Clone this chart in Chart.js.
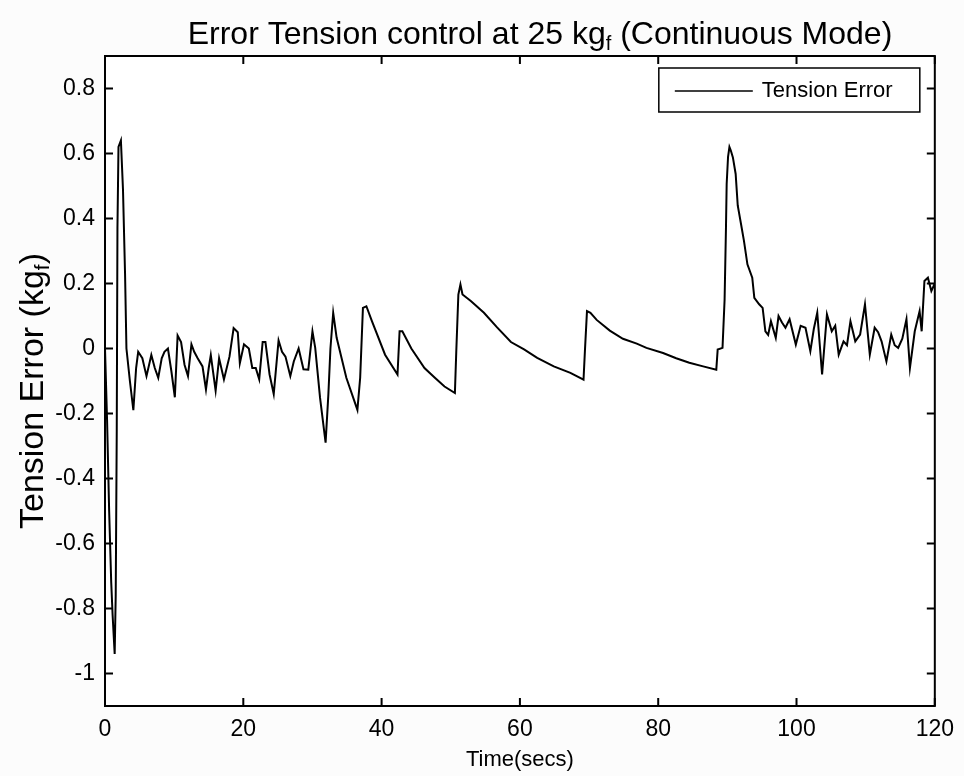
<!DOCTYPE html>
<html>
<head>
<meta charset="utf-8">
<script src="https://cdn.jsdelivr.net/npm/chart.js@4"></script>
<style>
  body { margin: 0; background: #fcfcfc; }
  canvas { display: block; }
</style>
</head>
<body>
<canvas id="tensionChart" width="964" height="776"></canvas>
<script>
// time (s) and tension error (kgf)
const timeSecs = [
  0, 0.3, 0.6, 0.9, 1.1, 1.4, 1.55, 1.7, 1.8, 1.95, 2.3, 2.6, 2.9, 3.1, 3.6, 4.1, 4.5,
  4.8, 5.4, 6.0, 6.7, 7.2, 7.7, 8.2, 8.6, 9.1, 9.6, 10.1, 10.5, 11.0, 11.5, 12.0, 12.5,
  12.9, 13.4, 14.1, 14.6, 15.0, 15.3, 16.0, 16.5, 17.2, 18.0, 18.6, 19.2, 19.5, 20.1,
  20.8, 21.3, 21.8, 22.3, 22.8, 23.2, 23.8, 24.4, 25.1, 25.6, 26.1, 26.8, 27.3, 28.0,
  28.7, 29.4, 30.0, 30.4, 31.1, 31.9, 32.3, 32.6, 33.0, 33.5, 34.9, 36.5, 36.9, 37.3,
  37.8, 38.6, 40.5, 42.3, 42.6, 43.0, 44.3, 46.2, 47.7, 49.1, 50.6, 50.8, 51.1, 51.4,
  51.7, 52.9, 54.8, 56.7, 58.7, 60.6, 62.5, 64.9, 67.3, 69.2, 69.4, 69.7, 70.2, 71.1,
  73.0, 74.9, 76.9, 78.3, 80.7, 82.6, 84.5, 86.5, 88.4, 88.6, 89.3, 89.6, 89.8, 89.9,
  90.1, 90.3, 90.5, 90.8, 91.2, 91.5, 92.0, 92.4, 92.9, 93.6, 93.9, 94.6, 95.1, 95.5,
  95.9, 96.3, 97.0, 97.4, 97.9, 98.4, 99.0, 99.9, 100.6, 101.3, 102.0, 102.5, 103.0,
  103.7, 104.4, 105.1, 105.6, 106.1, 106.8, 107.3, 107.8, 108.5, 109.2, 109.9, 110.6,
  111.3, 111.8, 112.3, 113.0, 113.7, 114.2, 114.7, 115.3, 115.9, 116.4, 117.1, 117.8,
  118.1, 118.5, 119.0, 119.5, 120
];
const tensionError = [
  0, -0.22, -0.5, -0.72, -0.82, -0.94, -0.76, -0.25, 0.37, 0.62, 0.64, 0.49, 0.23, 0.0, -0.1, -0.19, -0.06,
  -0.01, -0.03, -0.085, -0.02, -0.06, -0.09, -0.03, -0.01, 0.0, -0.07, -0.15, 0.04, 0.02, -0.05, -0.085, 0.013,
  -0.01, -0.03, -0.055, -0.126, -0.06, -0.02, -0.13, -0.03, -0.095, -0.025, 0.063, 0.05, -0.045, 0.013,
  0.0, -0.06, -0.06, -0.095, 0.02, 0.02, -0.08, -0.14, 0.025, -0.01, -0.025, -0.085, -0.04, 0.0,
  -0.064, -0.065, 0.053, 0.002, -0.152, -0.29, -0.142, 0.0, 0.11, 0.033, -0.09, -0.189, -0.09, 0.125,
  0.13, 0.084, -0.019, -0.08, 0.053, 0.053, 0.0, -0.06, -0.09, -0.117, -0.137, -0.008, 0.166, 0.197,
  0.166, 0.146, 0.11, 0.065, 0.02, -0.003, -0.029, -0.055, -0.075, -0.096, -0.008, 0.115, 0.11, 0.088,
  0.055, 0.03, 0.015, 0.002, -0.014, -0.03, -0.044, -0.055, -0.065, -0.003, 0.002, 0.15, 0.372, 0.506,
  0.59, 0.62, 0.609, 0.588, 0.537, 0.44, 0.38, 0.331, 0.259, 0.218, 0.156, 0.136, 0.125, 0.053,
  0.042, 0.084, 0.033, 0.1, 0.08, 0.064, 0.09, 0.012, 0.07, 0.064, -0.008, 0.06, 0.11,
  -0.08, 0.105, 0.053, 0.07, -0.019, 0.022, 0.01, 0.084, 0.022, 0.043, 0.136, -0.019,
  0.064, 0.05, 0.022, -0.04, 0.043, 0.01, 0.002, 0.03, 0.09, -0.06, 0.053, 0.115,
  0.053, 0.208, 0.218, 0.177, 0.2
];
const yTickValues = [-1, -0.8, -0.6, -0.4, -0.2, 0, 0.2, 0.4, 0.6, 0.8];
const yTickLabels = ['-1', '-0.8', '-0.6', '-0.4', '-0.2', '0', '0.2', '0.4', '0.6', '0.8'];
const xTickValues = [0, 20, 40, 60, 80, 100, 120];

const FONT = '"Liberation Sans", Arial, sans-serif';

// text with a subscript "f", e.g. kg_f
function subText(ctx, parts, size) {
  // parts: [[text, isSub], ...] ; returns total width
  let w = 0;
  parts.forEach(p => {
    ctx.font = (p[1] ? Math.round(size * 0.62) : size) + 'px ' + FONT;
    w += ctx.measureText(p[0]).width;
  });
  return w;
}
function drawSubText(ctx, parts, size, x, y) {
  let cx = x;
  parts.forEach(p => {
    ctx.font = (p[1] ? Math.round(size * 0.62) : size) + 'px ' + FONT;
    ctx.fillText(p[0], cx, p[1] ? y + size * 0.18 : y);
    cx += ctx.measureText(p[0]).width;
  });
}

const matlabFrame = {
  id: 'matlabFrame',
  beforeDraw(chart) {
    const { ctx, chartArea: a } = chart;
    ctx.save();
    ctx.fillStyle = '#ffffff';
    ctx.fillRect(a.left, a.top, a.right - a.left, a.bottom - a.top);
    ctx.restore();
  },
  afterDraw(chart) {
    const { ctx, chartArea: a, scales } = chart;
    ctx.save();
    ctx.strokeStyle = '#000';
    ctx.lineWidth = 2;
    ctx.strokeRect(a.left, a.top, a.right - a.left, a.bottom - a.top);
    // inward ticks on all four sides
    const tl = 8;
    ctx.beginPath();
    scales.x.ticks.forEach(t => {
      const px = scales.x.getPixelForValue(t.value);
      ctx.moveTo(px, a.bottom); ctx.lineTo(px, a.bottom - tl);
      ctx.moveTo(px, a.top); ctx.lineTo(px, a.top + tl);
    });
    scales.y.ticks.forEach(t => {
      const py = scales.y.getPixelForValue(t.value);
      ctx.moveTo(a.left, py); ctx.lineTo(a.left + tl, py);
      ctx.moveTo(a.right, py); ctx.lineTo(a.right - tl, py);
    });
    ctx.stroke();

    // legend box
    const label = chart.data.datasets[0].label;
    const bx = a.right - 276, by = a.top + 12, bw = 261, bh = 44;
    ctx.fillStyle = '#fff';
    ctx.fillRect(bx, by, bw, bh);
    ctx.lineWidth = 1.5;
    ctx.strokeRect(bx, by, bw, bh);
    ctx.beginPath();
    ctx.lineWidth = 1.5;
    ctx.moveTo(bx + 16, by + 23); ctx.lineTo(bx + 94, by + 23);
    ctx.stroke();
    ctx.fillStyle = '#000';
    ctx.font = '22px ' + FONT;
    ctx.textBaseline = 'middle';
    ctx.fillText(label, bx + 103, by + 23);

    // title
    ctx.textBaseline = 'alphabetic';
    const title = [['Error Tension control at 25 kg', false], ['f', true], [' (Continuous Mode)', false]];
    const tw = subText(ctx, title, 32);
    drawSubText(ctx, title, 32, 540 - tw / 2, 44);

    // x axis title
    ctx.font = '22px ' + FONT;
    ctx.textAlign = 'center';
    ctx.fillText('Time(secs)', (a.left + a.right) / 2, 766);
    ctx.textAlign = 'left';

    // y axis title
    const yTitle = [['Tension Error (kg', false], ['f', true], [')', false]];
    const yw = subText(ctx, yTitle, 34);
    ctx.translate(43, 391);
    ctx.rotate(-Math.PI / 2);
    drawSubText(ctx, yTitle, 34, -yw / 2, 0);
    ctx.restore();
  }
};

const points = timeSecs.map((t, i) => ({ x: t, y: tensionError[i] }));

new Chart(document.getElementById('tensionChart'), {
  type: 'line',
  data: {
    datasets: [{
      label: 'Tension Error',
      data: points,
      borderColor: '#000',
      borderWidth: 2,
      pointRadius: 0,
      tension: 0,
      fill: false
    }]
  },
  options: {
    responsive: false,
    animation: false,
    layout: { padding: { top: 56, right: 24, left: 0, bottom: 0 } },
    plugins: { legend: { display: false }, tooltip: { enabled: false } },
    scales: {
      x: {
        type: 'linear',
        min: 0, max: 120,
        afterBuildTicks: s => { s.ticks = xTickValues.map(v => ({ value: v })); },
        afterFit: s => { s.height = 70; },
        grid: { display: false, drawTicks: false },
        border: { display: false },
        ticks: { color: '#000', font: { size: 23, family: FONT }, padding: 10, maxRotation: 0 }
      },
      y: {
        min: -1.1, max: 0.9,
        afterBuildTicks: s => { s.ticks = yTickValues.map(v => ({ value: v })); },
        afterFit: s => { s.width = 105; },
        grid: { display: false, drawTicks: false },
        border: { display: false },
        ticks: {
          color: '#000', font: { size: 23, family: FONT }, padding: 10,
          callback: (v, i) => yTickLabels[i]
        }
      }
    }
  },
  plugins: [matlabFrame]
});
</script>
</body>
</html>
